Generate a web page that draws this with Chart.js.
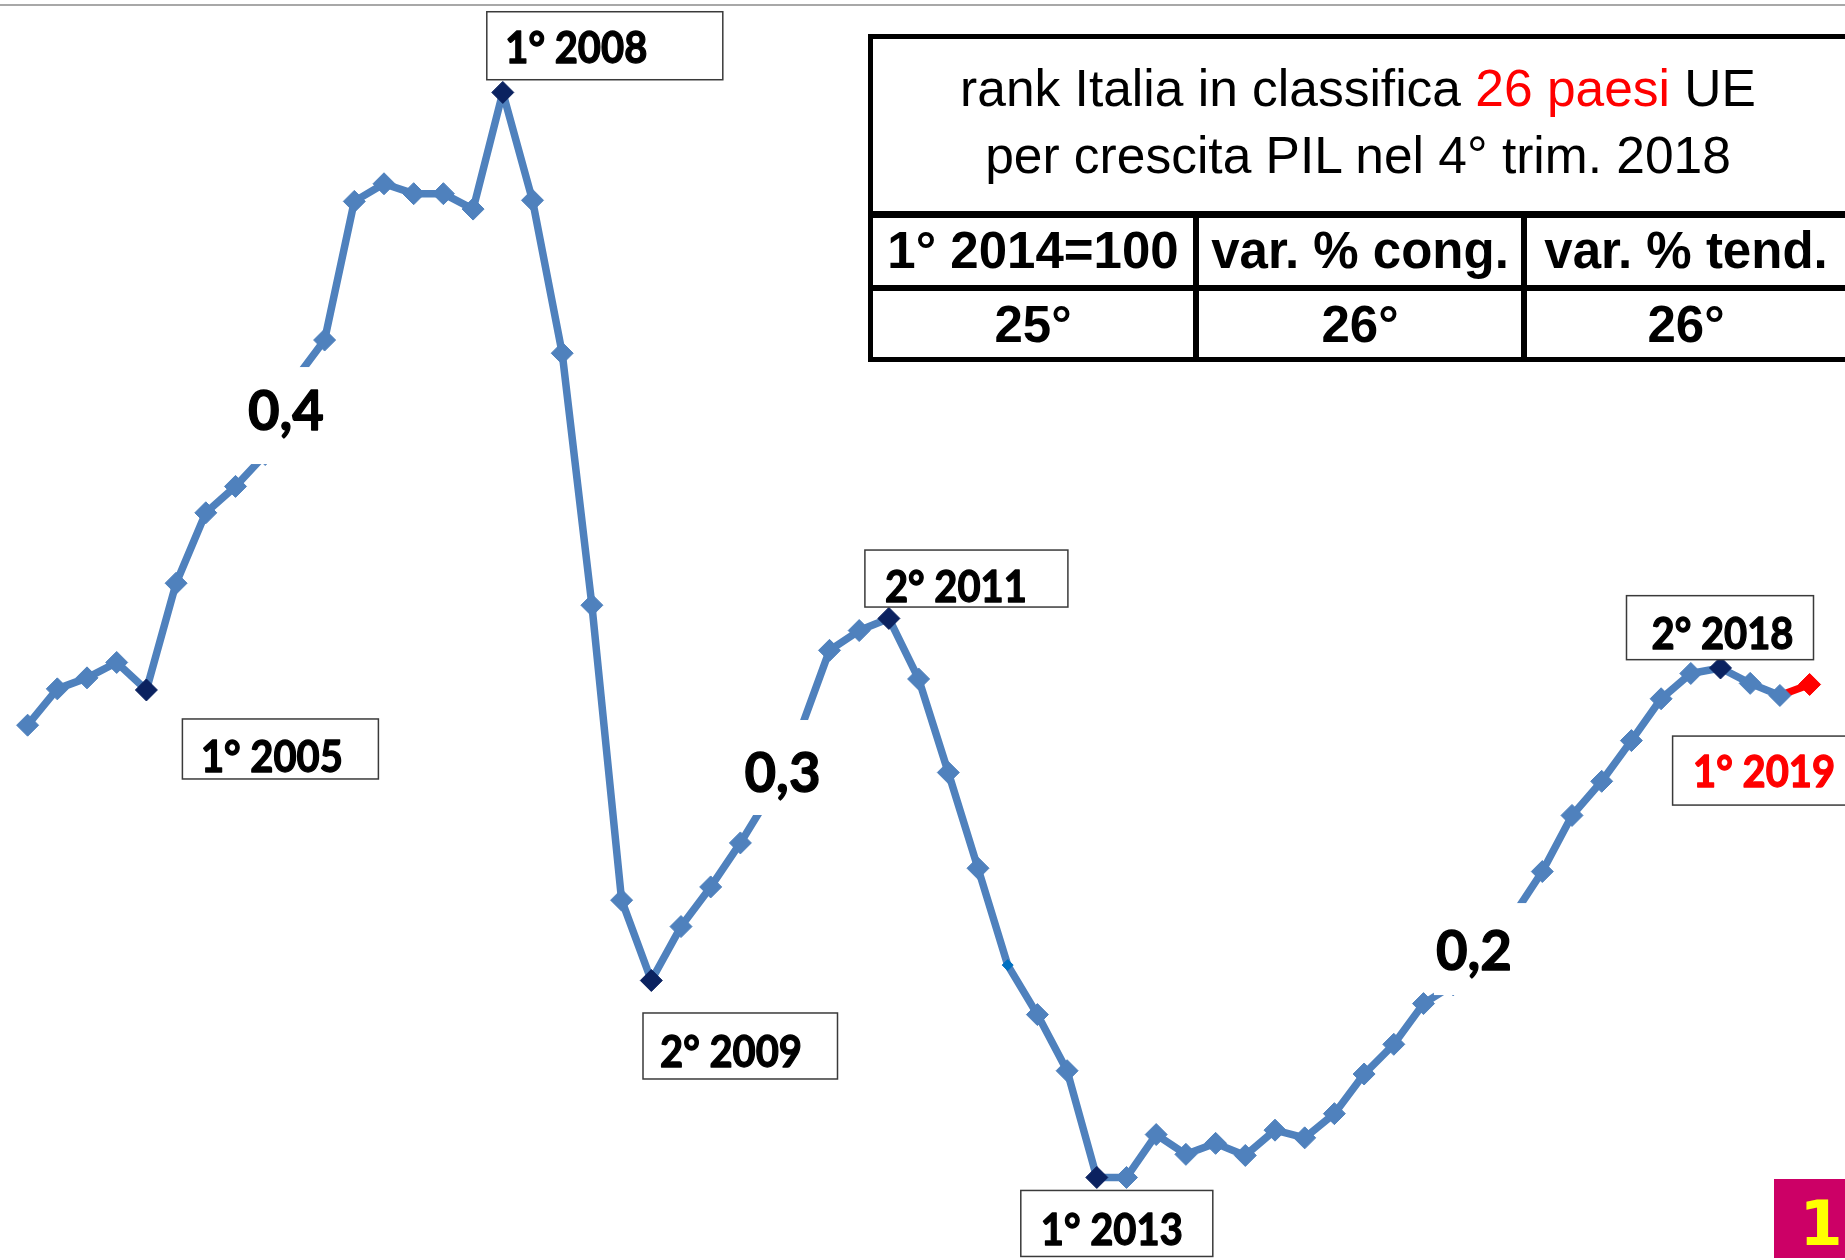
<!DOCTYPE html>
<html lang="it">
<head>
<meta charset="utf-8">
<title>rank Italia - PIL</title>
<script src="https://cdn.jsdelivr.net/npm/chart.js@4.4.0/dist/chart.umd.min.js"></script>
<style>
  html, body { margin: 0; padding: 0; background: #fff; }
  #wrap { position: relative; width: 1845px; height: 1260px; overflow: hidden; }
  #chart { position: absolute; left: 0; top: 0; }
  .topline { position: absolute; left: 0; top: 4px; width: 1845px; height: 2px; background: #a8a8a8; }
  .blk { position: absolute; background: #000; }
  .tbl { position: absolute; left: 868px; top: 34px; width: 990px; height: 328px;
         box-sizing: border-box; border: 5px solid #000; background: #fff; }
  .txt { position: absolute; font-family: "Liberation Sans", Arial, sans-serif; font-size: 51.5px;
         line-height: 51px; text-align: center; white-space: nowrap; color: #000; }
  .b { font-weight: bold; font-size: 51px; }
  .red { color: #ff0000; }
  .page { position: absolute; left: 1774px; top: 1179px; width: 80px; height: 79px; background: #cc0066; }
  .pagenum { position: absolute; left: 1771px; top: 1193px; width: 100px; text-align: center;
             font-family: "DejaVu Sans", sans-serif; font-weight: bold; font-size: 62px;
             line-height: 62px; color: #ffff00; }
</style>
</head>
<body>
<div id="wrap">
  <canvas id="chart" width="1845" height="1260"></canvas>
  <div class="topline"></div>

  <div class="tbl"></div>
  <div class="blk" style="left:868px; top:211px; width:990px; height:7px;"></div>
  <div class="blk" style="left:868px; top:285px; width:990px; height:6px;"></div>
  <div class="blk" style="left:1193px; top:211px; width:6px; height:151px;"></div>
  <div class="blk" style="left:1521px; top:211px; width:6px; height:151px;"></div>

  <div class="txt" style="left:858px; top:63px; width:1000px;">rank Italia in classifica <span class="red">26 paesi</span> UE</div>
  <div class="txt" style="left:858px; top:130px; width:1000px;">per crescita PIL nel 4° trim. 2018</div>

  <div class="txt b" style="left:873px; top:225px; width:320px;">1° 2014=100</div>
  <div class="txt b" style="left:1199px; top:225px; width:322px;">var. % cong.</div>
  <div class="txt b" style="left:1527px; top:225px; width:318px;">var. % tend.</div>

  <div class="txt b" style="left:873px; top:299px; width:320px;">25°</div>
  <div class="txt b" style="left:1199px; top:299px; width:322px;">26°</div>
  <div class="txt b" style="left:1527px; top:299px; width:318px;">26°</div>

  <div class="page"></div>
  <div class="pagenum">1</div>
</div>

<script>
// quarters from 1° 2004 to 1° 2019
const quarters = [
    '1° 2004', '2° 2004', '3° 2004', '4° 2004',
    '1° 2005', '2° 2005', '3° 2005', '4° 2005',
    '1° 2006', '2° 2006', '3° 2006', '4° 2006',
    '1° 2007', '2° 2007', '3° 2007', '4° 2007',
    '1° 2008', '2° 2008', '3° 2008', '4° 2008',
    '1° 2009', '2° 2009', '3° 2009', '4° 2009',
    '1° 2010', '2° 2010', '3° 2010', '4° 2010',
    '1° 2011', '2° 2011', '3° 2011', '4° 2011',
    '1° 2012', '2° 2012', '3° 2012', '4° 2012',
    '1° 2013', '2° 2013', '3° 2013', '4° 2013',
    '1° 2014', '2° 2014', '3° 2014', '4° 2014',
    '1° 2015', '2° 2015', '3° 2015', '4° 2015',
    '1° 2016', '2° 2016', '3° 2016', '4° 2016',
    '1° 2017', '2° 2017', '3° 2017', '4° 2017',
    '1° 2018', '2° 2018', '3° 2018', '4° 2018',
    '1° 2019'
];

// PIL Italia, indice 1° 2014 = 100
const pilIndex = [
    103.80, 104.13, 104.23, 104.37,
    104.12, 105.09, 105.73, 105.97,
    106.26, 106.94, 107.30, 108.56,
    108.72, 108.63, 108.63, 108.49,
    109.55, 108.57, 107.18, 104.89,
    102.21, 101.48, 101.97, 102.33,
    102.73, 103.17, 103.74, 104.48,
    104.66, 104.77, 104.22, 103.37,
    102.50, 101.62, 101.17, 100.66,
    99.69, 99.69, 100.08, 99.90,
    100.00, 99.89, 100.12, 100.05,
    100.27, 100.63, 100.90, 101.27,
    101.44, 101.74, 102.06, 102.47,
    102.98, 103.29, 103.66, 104.04,
    104.27, 104.32, 104.18, 104.07,
    104.17
];

// turning points with a boxed label
const turningPoints = [4, 16, 21, 29, 36, 57, 60];

// average growth per phase
const phaseGrowth = ['0,4', '0,3', '0,2'];
const phaseAnchor = [9, 25, 49];

const BLUE = '#4f81bd';
const NAVY = '#0b2260';
const RED = '#ff0000';
const last = pilIndex.length - 1;

const pointColors = pilIndex.map((v, i) => {
    if (i === last) return RED;
    if (turningPoints.includes(i)) return NAVY;
    if (i === 33) return '#0070c0';
    return BLUE;
});
const pointSizes = pilIndex.map((v, i) => i === 33 ? 5.5 : 11);

// box offsets from the point: [dx, dy, w, h], text at [tx, ty] inside the box
const turnBoxes = [
    { box: [36, 29, 196, 60], text: [18.5, 53] },
    { box: [-16, -80.7, 236, 68], text: [18.5, 51.5] },
    { box: [-8.3, 32.5, 194.5, 66], text: [17, 54] },
    { box: [-24, -68.4, 203, 57], text: [20, 51.5] },
    { box: [-76, 13, 192, 66], text: [20, 55] },
    { box: [-94, -72.3, 187, 64], text: [25, 53] },
    { box: [-137, 51.6, 190, 69], text: [20.5, 51], color: RED }
];
const phaseBoxes = [
    { box: [-59, -12.6, 100, 97], text: [-9, 50.4] },
    { box: [-35, -74.5, 98, 95], text: [12.4, -2.5] },
    { box: [-49, -48.8, 94, 92], text: [-9, 18.2] }
];

// draws bold text squeezed to a given width (Calibri-like proportions)
function heavyText(ctx, str, x, y, size, width, align, color) {
    ctx.save();
    ctx.font = 'bold ' + size + 'px Lato';
    const w = ctx.measureText(str).width;
    const sx = width / w;
    ctx.translate(x, y);
    ctx.scale(sx, 1);
    ctx.textAlign = align;
    ctx.fillStyle = color;
    ctx.strokeStyle = color;
    ctx.lineWidth = 1.3;
    ctx.lineJoin = 'round';
    ctx.fillText(str, 0, 0);
    ctx.strokeText(str, 0, 0);
    ctx.restore();
}

const notesPlugin = {
    id: 'notes',
    afterDatasetsDraw(chart) {
        const ctx = chart.ctx;
        const pts = chart.getDatasetMeta(0).data;
        ctx.save();
        ctx.textBaseline = 'alphabetic';

        phaseGrowth.forEach((label, k) => {
            const p = pts[phaseAnchor[k]];
            const b = phaseBoxes[k];
            ctx.fillStyle = '#fff';
            ctx.fillRect(p.x + b.box[0], p.y + b.box[1], b.box[2], b.box[3]);
            heavyText(ctx, label, p.x + b.text[0], p.y + b.text[1], 56, 76, 'center', '#000');
        });

        turningPoints.forEach((idx, k) => {
            const p = pts[idx];
            const b = turnBoxes[k];
            const x = p.x + b.box[0];
            const y = p.y + b.box[1];
            ctx.fillStyle = '#fff';
            ctx.fillRect(x, y, b.box[2], b.box[3]);
            ctx.strokeStyle = '#3a3a3a';
            ctx.lineWidth = 1.5;
            ctx.strokeRect(x, y, b.box[2], b.box[3]);
            heavyText(ctx, quarters[idx], x + b.text[0], y + b.text[1], 44, 142, 'left', b.color || '#000');
        });
        ctx.restore();
    }
};

new Chart(document.getElementById('chart').getContext('2d'), {
    type: 'line',
    data: {
        labels: quarters,
        datasets: [{
            data: pilIndex,
            borderColor: BLUE,
            borderWidth: 7.5,
            borderJoinStyle: 'round',
            tension: 0,
            pointStyle: 'rectRot',
            pointRadius: pointSizes,
            pointBackgroundColor: pointColors,
            pointBorderColor: pointColors,
            pointBorderWidth: 1,
            clip: false,
            segment: {
                borderColor: (c) => c.p1DataIndex === last ? RED : undefined
            }
        }]
    },
    options: {
        responsive: false,
        devicePixelRatio: 1,
        animation: false,
        events: [],
        layout: { autoPadding: false, padding: { left: 27.6, right: 35.4, top: 0, bottom: 0 } },
        scales: {
            x: { display: false },
            y: { display: false, min: 98.94, max: 110.39 }
        },
        plugins: {
            legend: { display: false },
            tooltip: { enabled: false }
        }
    },
    plugins: [notesPlugin]
});
</script>
</body>
</html>
